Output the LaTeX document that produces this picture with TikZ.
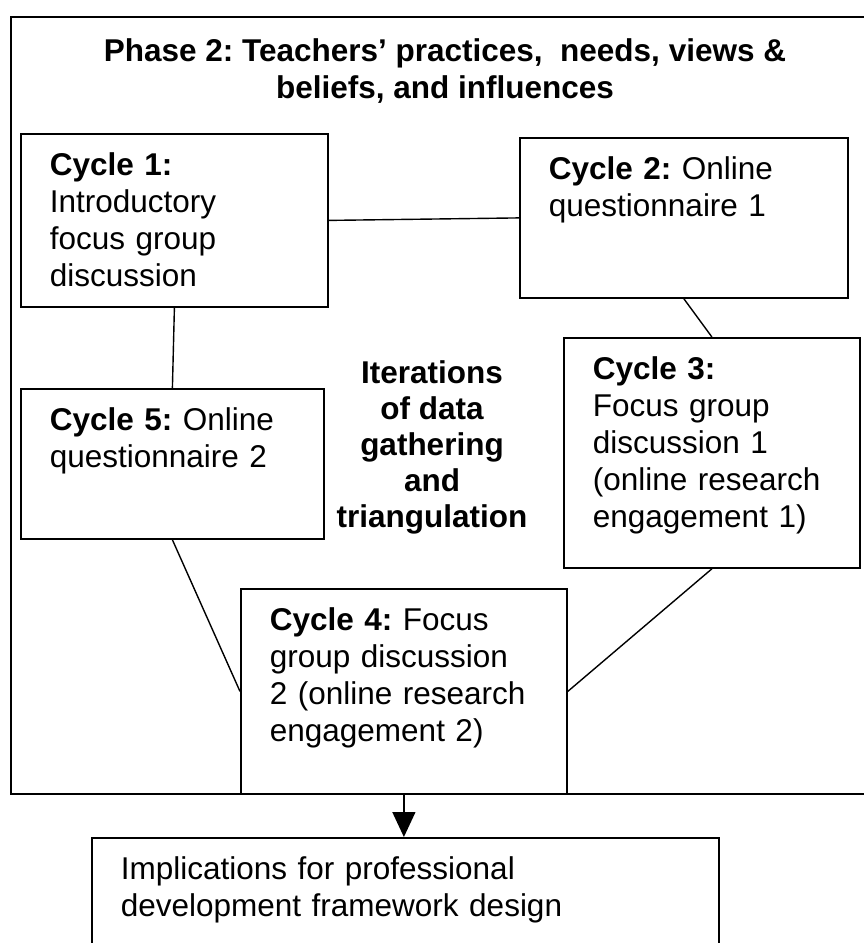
\documentclass[tikz,border=0pt]{standalone}
\usepackage{fontspec}
\setmainfont{Liberation Sans}
\usetikzlibrary{arrows.meta}

\begin{document}
\frenchspacing
\begin{tikzpicture}[x=1pt,y=1pt,
  cyclebox/.style={draw,line width=1.8pt,anchor=north west,align=left,inner xsep=29pt,inner ysep=19pt,text height=23pt,font=\fontsize{31.5}{37}\selectfont},
  link/.style={line width=1.4pt},
  heading/.style={align=center,inner sep=0pt,font=\bfseries\fontsize{31.5}{37}\selectfont}]
\useasboundingbox (0,0) rectangle (864,-943);
\clip (0,0) rectangle (864,-943);
\node[draw,line width=2.4pt,anchor=north west,minimum width=870pt,minimum height=777pt,inner sep=0pt] (phase) at (10,-16) {};
\node[heading,anchor=north] (title) at (445,-38) {Phase 2: Teachers' practices,~ needs, views \&\\beliefs, and influences};
\node[cyclebox,text width=249pt,text depth=112pt] (c1) at (20,-133) {\textbf{Cycle 1:}\\Introductory\\focus group\\discussion};
\node[cyclebox,text width=270pt,text depth=99pt] (c2) at (519,-137) {\textbf{Cycle 2:} Online\\questionnaire 1};
\node[cyclebox,text width=238pt,text depth=169pt] (c3) at (563,-337) {\textbf{Cycle 3:}\\Focus group\\discussion 1\\(online research\\engagement 1)};
\node[cyclebox,text width=245pt,text depth=89pt] (c5) at (20,-388) {\textbf{Cycle 5:} Online\\questionnaire 2};
\node[cyclebox,text width=268pt,text depth=144pt] (c4) at (240,-588) {\textbf{Cycle 4:} Focus\\group discussion\\2 (online research\\engagement 2)};
\node[heading,anchor=north,font=\bfseries\fontsize{31.5}{36}\selectfont] (iter) at (432,-360) {Iterations\\of data\\gathering\\and\\triangulation};
\node[cyclebox,text width=569pt,text depth=120pt] (impl) at (91,-837) {Implications for professional\\development framework design};
\draw[link] (c1.east) -- (c2.west);
\draw[link] (c1.south) -- (c5.north);
\draw[link] (c2.south) -- (c3.north);
\draw[link] (c3.south) -- (c4.east);
\draw[link] (c5.south) -- (c4.west);
\draw[link,-{Triangle[width=23pt,length=25pt]}] (c4.south) -- (c4.south |- impl.north);
\end{tikzpicture}
\end{document}
